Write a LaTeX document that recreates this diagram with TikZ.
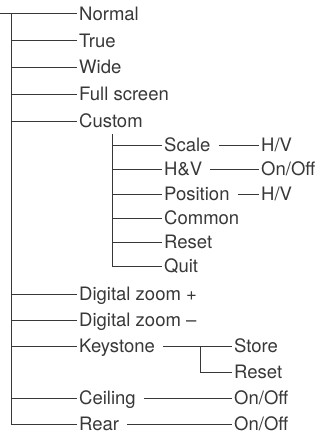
\documentclass[tikz,border=0pt]{standalone}
\usepackage{fontspec}
\setmainfont{TeX Gyre Heros}
\tikzset{
    item/.style={anchor=west, inner sep=2pt, text height=13.3pt, text depth=1pt,
        text=black!78, font=\fontsize{18.5}{20}\selectfont},
    branch/.style={draw=black!78, line width=1pt},
    gap/.style={shorten <=6pt}
}
\begin{document}
\begin{tikzpicture}[x=1pt, y=-1pt]
            \useasboundingbox (0,0) rectangle (321,436);

            % Define nodes
            \node[item] (normal) at (77,14) {Normal};
            \node[item] (true) at (77,41) {True};
            \node[item] (wide) at (77,67) {Wide};
            \node[item] (full) at (77,94) {Full screen};
            \node[item] (custom) at (77,121) {Custom};

            \node[item] (scale) at (162,145) {Scale};
            \node[item] (hv) at (162,169) {H\&V};
            \node[item] (position) at (162,194) {Position};
            \node[item] (common) at (162,218) {Common};
            \node[item] (creset) at (162,242) {Reset};
            \node[item] (quit) at (162,266) {Quit};

            \node[item] (scaleval) at (259,145) {H/V};
            \node[item] (hvval) at (259,169) {On/Off};
            \node[item] (posval) at (259,194) {H/V};

            \node[item] (dzplus) at (77,294) {Digital zoom +};
            \node[item] (dzminus) at (77,320) {Digital zoom –};
            \node[item] (keystone) at (77,346) {Keystone};
            \node[item] (store) at (232,346) {Store};
            \node[item] (kreset) at (232,372) {Reset};
            \node[item] (ceiling) at (77,398) {Ceiling};
            \node[item] (ceilval) at (232,398) {On/Off};
            \node[item] (rear) at (77,424) {Rear};
            \node[item] (rearval) at (232,424) {On/Off};

            \coordinate (start) at (0,14);
            \coordinate (trunk) at (11,14);
            \coordinate (subtrunk) at (112,134);
            \coordinate (kfork) at (200,346);

            % Draw edges
            \draw[branch] (start) -- (normal.west);
            \draw[branch] (trunk) |- (rear.west);
            \foreach \n in {true, wide, full, custom, dzplus, dzminus, keystone, ceiling}
                \draw[branch] (trunk |- \n.west) -- (\n.west);

            \draw[branch] (subtrunk) |- (quit.west);
            \foreach \n in {scale, hv, position, common, creset}
                \draw[branch] (subtrunk |- \n.west) -- (\n.west);

            \draw[branch, gap] (scale.east) -- (scaleval.west);
            \draw[branch, gap] (hv.east) -- (hvval.west);
            \draw[branch, gap] (position.east) -- (posval.west);

            \draw[branch, gap] (keystone.east) -- (store.west);
            \draw[branch] (kfork) |- (kreset.west);
            \draw[branch, gap] (ceiling.east) -- (ceilval.west);
            \draw[branch, gap] (rear.east) -- (rearval.west);

        \end{tikzpicture}
\end{document}
